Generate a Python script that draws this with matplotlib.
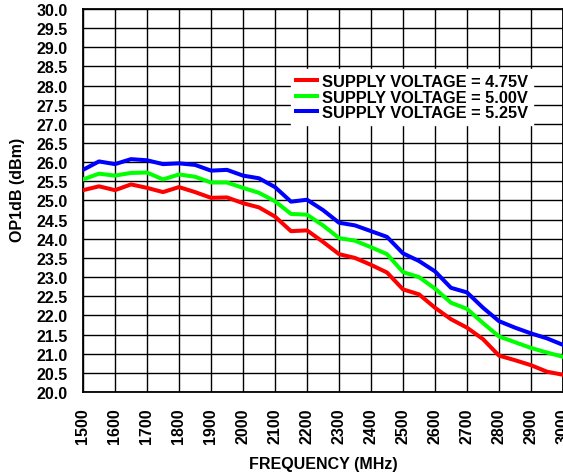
import matplotlib
matplotlib.use("Agg")
import matplotlib.pyplot as plt
import numpy as np

freq = [1500, 1550, 1600, 1650, 1700, 1750, 1800, 1850, 1900, 1950, 2000, 2050,
        2100, 2150, 2200, 2250, 2300, 2350, 2400, 2450, 2500, 2550, 2600, 2650,
        2700, 2750, 2800, 2850, 2900, 2950, 3000]
v475 = [25.27, 25.37, 25.27, 25.42, 25.33, 25.22, 25.35, 25.22, 25.07, 25.08, 24.93, 24.82,
        24.58, 24.20, 24.22, 23.92, 23.60, 23.50, 23.32, 23.12, 22.68, 22.55, 22.20, 21.90,
        21.68, 21.38, 20.95, 20.83, 20.70, 20.53, 20.45]
v500 = [25.55, 25.70, 25.65, 25.72, 25.73, 25.55, 25.68, 25.62, 25.47, 25.47, 25.33, 25.20,
        24.98, 24.65, 24.63, 24.35, 24.02, 23.95, 23.78, 23.60, 23.13, 23.00, 22.70, 22.33,
        22.17, 21.80, 21.45, 21.30, 21.15, 21.03, 20.92]
v525 = [25.80, 26.02, 25.95, 26.08, 26.05, 25.95, 25.97, 25.93, 25.78, 25.80, 25.65, 25.58,
        25.35, 24.97, 25.02, 24.75, 24.42, 24.35, 24.20, 24.05, 23.62, 23.42, 23.15, 22.72,
        22.60, 22.20, 21.85, 21.68, 21.53, 21.40, 21.23]
labels = ["SUPPLY VOLTAGE = 4.75V", "SUPPLY VOLTAGE = 5.00V", "SUPPLY VOLTAGE = 5.25V"]
colors = ["#FF0000", "#00FF00", "#0000FF"]
xticks = list(range(1500, 3001, 100))
yticks = [20.0 + 0.5 * i for i in range(21)]

plt.rcParams['font.family'] = ['Liberation Sans', 'DejaVu Sans']
plt.rcParams['font.weight'] = 'bold'

fig = plt.figure(figsize=(5.63, 4.77), dpi=100)
ax = fig.add_axes([83/563, 1 - 393/477, 480/563, 383/477])

for ys, lab, c in zip([v475, v500, v525], labels, colors):
    ax.plot(freq, ys, color=c, lw=2.9, label=lab, solid_joinstyle='round', zorder=3)

ax.set_xlim(1500, 3000)
ax.set_ylim(20, 30)
ax.set_xticks(xticks)
ax.set_xticklabels([str(t) for t in xticks], rotation=90, fontsize=11.5, fontweight='bold')
ax.set_yticks(yticks)
ax.set_yticklabels([f"{t:.1f}" for t in yticks], fontsize=11.5, fontweight='bold')
ax.tick_params(axis='y', length=0, pad=11)
ax.tick_params(axis='x', length=0, pad=11)
ax.grid(True, color='black', lw=1.0, zorder=1)
for s in ax.spines.values():
    s.set_color('black')
    s.set_linewidth(1.3)

ax.set_xlabel("FREQUENCY (MHz)", fontsize=11.5, fontweight='bold')
ax.set_ylabel("OP1dB (dBm)", fontsize=11.5, fontweight='bold')
ax.xaxis.set_label_coords(0.5, -0.167)
ax.yaxis.set_label_coords(-0.12, 0.53)

leg = ax.legend(loc='upper right', bbox_to_anchor=(0.9375, 0.843), frameon=True,
                fancybox=False, framealpha=1, facecolor='white', edgecolor='white',
                prop={'size': 11.8, 'weight': 'bold'}, handlelength=1.28,
                labelspacing=0.03, borderpad=0.3, handletextpad=0.3, borderaxespad=0)
leg.set_zorder(5)

fig.savefig("out.png", dpi=100)
